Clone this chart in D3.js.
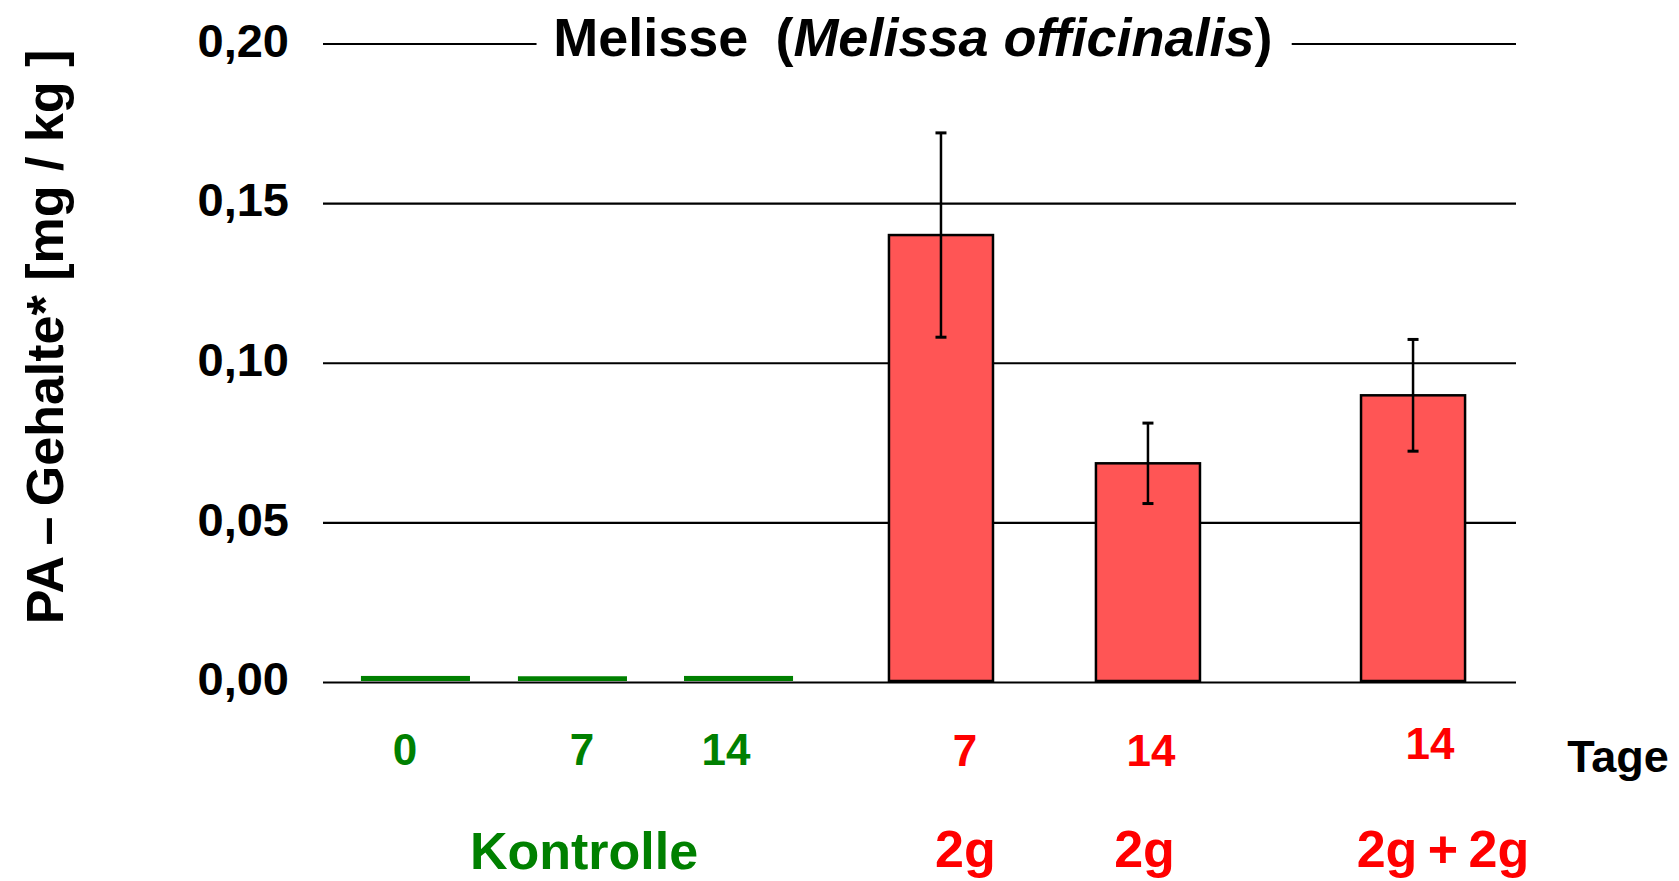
<!DOCTYPE html>
<html>
<head>
<meta charset="utf-8">
<script src="https://cdn.jsdelivr.net/npm/d3@7"></script>
<style>
  html, body { margin: 0; padding: 0; background: #fff; }
  svg { display: block; font-family: "Liberation Sans", Arial, Helvetica, sans-serif; font-weight: bold; }
</style>
</head>
<body>
<svg id="chart" width="1679" height="881"></svg>
<script>
// PA content in lemon balm (mg/kg), control vs. 2 g applications
const categories = ["K0", "K7", "K14", "A7", "A14", "B14"];
const groups     = ["ctrl", "ctrl", "ctrl", "dose", "dose", "dose"];
const values     = [0.0019, 0.0018, 0.0019, 0.140, 0.0685, 0.0898];
const errors     = [null, null, null, 0.032, 0.0126, 0.0175];
const dayLabels  = ["0", "7", "14", "7", "14", "14"];
const doseLabels = ["Kontrolle", "2g", "2g", "2g\u2009+\u20092g"];
const doseGroups = ["ctrl", "dose", "dose", "dose"];
const yTicks     = [0, 0.05, 0.10, 0.15, 0.20];

// layout (horizontal positions in plot units 0..100)
const barCenter  = [7.75, 20.91, 34.83, 51.80, 69.15, 91.37];
const barWidth   = { ctrl: 9.14, dose: 8.72 };
const dayX       = [6.87, 21.71, 33.78, 53.81, 69.40, 92.79];
const dayBase    = [765, 765, 765, 766, 766, 759];
const doseX      = [21.88, 53.85, 68.86, 93.88];
const doseBase   = [869, 867, 867, 867];

const colors = { ctrl: "#008000", dose: "#ff5555" };
const textColors = { ctrl: "#008000", dose: "#ff0000" };

const svg = d3.select("#chart");
const x = d3.scaleLinear().domain([0, 100]).range([323, 1516]);
const y = d3.scaleLinear().domain([0, 0.20]).range([682, 43.5]);

const fmt = d3.formatLocale({ decimal: ",", thousands: ".", grouping: [3], currency: ["", "€"] }).format(".2f");

// gridlines + tick labels
const yAxis = svg.append("g")
  .attr("transform", `translate(${x(0)},0)`)
  .call(d3.axisLeft(y).tickValues(yTicks).tickFormat(fmt)
        .tickSize(-(x(100) - x(0))).tickPadding(34));
yAxis.select(".domain").remove();
yAxis.selectAll(".tick line").attr("stroke", "#000").attr("stroke-width", 2.2);
yAxis.selectAll(".tick text")
  .attr("fill", "#000").attr("font-size", 47).attr("font-weight", "bold")
  .attr("font-family", "Liberation Sans, Arial, sans-serif")
  .attr("dy", "0.27em");

// title sits on the top gridline
const titleX = x(49.45);
svg.append("rect")
  .attr("x", x(17.9)).attr("y", y(0.2) - 6)
  .attr("width", x(81.2) - x(17.9)).attr("height", 12)
  .attr("fill", "#fff");
const title = svg.append("text")
  .attr("x", titleX).attr("y", 56)
  .attr("text-anchor", "middle").attr("font-size", 54).attr("fill", "#000");
title.append("tspan").text("Melisse\u2002(");
title.append("tspan").attr("font-style", "italic").text("Melissa officinalis");
title.append("tspan").text(")");

// bars
svg.append("g").selectAll("rect")
  .data(values)
  .join("rect")
  .attr("x", (d, i) => x(barCenter[i] - barWidth[groups[i]] / 2))
  .attr("width", (d, i) => x(barWidth[groups[i]]) - x(0))
  .attr("y", d => y(d))
  .attr("height", d => y(0) - y(d) - 1)
  .attr("fill", (d, i) => colors[groups[i]])
  .attr("stroke", (d, i) => groups[i] === "dose" ? "#000" : "none")
  .attr("stroke-width", 2.5);

// error bars
const eb = svg.append("g").attr("stroke", "#000").attr("stroke-width", 2.5);
values.forEach((v, i) => {
  if (errors[i] == null) return;
  const cx = x(barCenter[i]);
  const top = y(v + errors[i]), bot = y(v - errors[i]);
  eb.append("line").attr("x1", cx).attr("x2", cx).attr("y1", top).attr("y2", bot);
  eb.append("line").attr("x1", cx - 5.5).attr("x2", cx + 5.5).attr("y1", top).attr("y2", top).attr("stroke-width", 3);
  eb.append("line").attr("x1", cx - 5.5).attr("x2", cx + 5.5).attr("y1", bot).attr("y2", bot).attr("stroke-width", 3);
});

// day labels
svg.append("g").selectAll("text")
  .data(dayLabels)
  .join("text")
  .attr("x", (d, i) => x(dayX[i]))
  .attr("y", (d, i) => dayBase[i])
  .attr("text-anchor", "middle").attr("font-size", 44)
  .attr("fill", (d, i) => textColors[groups[i]])
  .text(d => d);

svg.append("text")
  .attr("x", x(108.55)).attr("y", 772)
  .attr("text-anchor", "middle").attr("font-size", 45).attr("fill", "#000")
  .text("Tage");

// treatment labels
svg.append("g").selectAll("text")
  .data(doseLabels)
  .join("text")
  .attr("x", (d, i) => x(doseX[i]))
  .attr("y", (d, i) => doseBase[i])
  .attr("text-anchor", "middle").attr("font-size", 52)
  .attr("fill", (d, i) => textColors[doseGroups[i]])
  .text(d => d);

// y axis title
svg.append("text")
  .attr("transform", "translate(63,337) rotate(-90)")
  .attr("text-anchor", "middle").attr("font-size", 52).attr("fill", "#000")
  .text("PA\u2009\u2013\u2009Gehalte* [mg / kg ]");
</script>
</body>
</html>
